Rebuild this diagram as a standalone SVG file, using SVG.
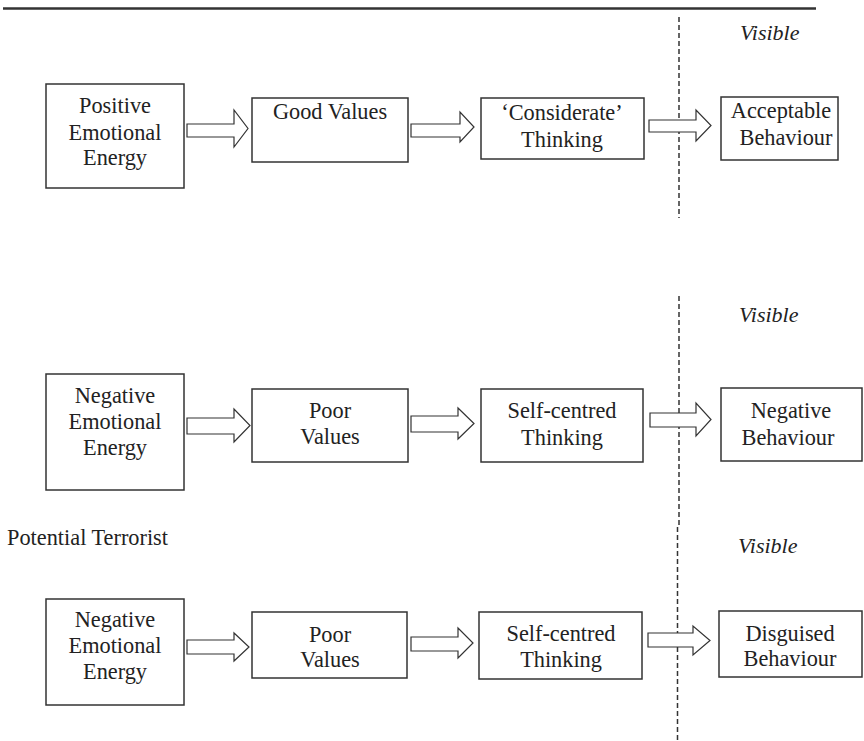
<svg xmlns="http://www.w3.org/2000/svg" width="864" height="741" viewBox="0 0 864 741">
<style>
.box{fill:#fff;stroke:#333;stroke-width:1.5}
.arr{fill:#fff;stroke:#333;stroke-width:1.2;stroke-linejoin:miter}
.t,.p{font-family:"Liberation Serif","Times New Roman",serif;font-size:24px;fill:#222;transform-box:fill-box;transform-origin:center;transform:scaleX(0.93)}
.t{text-anchor:middle}
.v{font-family:"Liberation Serif","Times New Roman",serif;font-size:22px;font-style:italic;fill:#222}
.dash{stroke:#333;stroke-width:1.5;stroke-dasharray:5 3;fill:none}
</style>
<rect width="864" height="741" fill="#fff"/>
<line x1="3" y1="8.5" x2="816" y2="8.5" stroke="#333" stroke-width="2.5"/>

<g id="dividers">
<line class="dash" x1="679" y1="17" x2="679" y2="218"/>
<line class="dash" x1="679" y1="296" x2="679" y2="527"/>
<line class="dash" x1="677.5" y1="527" x2="677.5" y2="741"/>
</g>

<g id="labels">
<text class="v" x="740" y="40">Visible</text>
<text class="v" x="739" y="322">Visible</text>
<text class="v" x="738" y="553">Visible</text>
<text class="p" x="1" y="545">Potential Terrorist</text>
</g>

<!-- Row 1 -->
<g id="r1n1"><rect class="box" x="46" y="84" width="138" height="104"/>
<text class="t" x="115" y="113">Positive</text><text class="t" x="115" y="140">Emotional</text><text class="t" x="115" y="165">Energy</text></g>
<g id="r1n2"><rect class="box" x="252" y="98" width="156" height="64"/>
<text class="t" x="330" y="119">Good Values</text></g>
<g id="r1n3"><rect class="box" x="481" y="98" width="163" height="61"/>
<text class="t" x="562" y="120">‘Considerate’</text><text class="t" x="562" y="147">Thinking</text></g>
<g id="r1n4"><rect class="box" x="721" y="97" width="117" height="63"/>
<text class="t" x="781" y="118">Acceptable</text><text class="t" x="786" y="145">Behaviour</text></g>

<!-- Row 2 -->
<g id="r2n1"><rect class="box" x="46" y="374" width="138" height="116"/>
<text class="t" x="115" y="403">Negative</text><text class="t" x="115" y="429">Emotional</text><text class="t" x="115" y="455">Energy</text></g>
<g id="r2n2"><rect class="box" x="252" y="389" width="156" height="73"/>
<text class="t" x="330" y="418">Poor</text><text class="t" x="330" y="444">Values</text></g>
<g id="r2n3"><rect class="box" x="481" y="389" width="162" height="73"/>
<text class="t" x="562" y="418">Self-centred</text><text class="t" x="562" y="445">Thinking</text></g>
<g id="r2n4"><rect class="box" x="721" y="388" width="141" height="73"/>
<text class="t" x="791" y="418">Negative</text><text class="t" x="788" y="445">Behaviour</text></g>

<!-- Row 3 -->
<g id="r3n1"><rect class="box" x="46" y="599" width="138" height="106"/>
<text class="t" x="115" y="627">Negative</text><text class="t" x="115" y="653">Emotional</text><text class="t" x="115" y="679">Energy</text></g>
<g id="r3n2"><rect class="box" x="252" y="612" width="155" height="66"/>
<text class="t" x="330" y="642">Poor</text><text class="t" x="330" y="667">Values</text></g>
<g id="r3n3"><rect class="box" x="479" y="612" width="163" height="67"/>
<text class="t" x="561" y="641">Self-centred</text><text class="t" x="561" y="667">Thinking</text></g>
<g id="r3n4"><rect class="box" x="719" y="611" width="143" height="66"/>
<text class="t" x="790" y="641">Disguised</text><text class="t" x="790" y="666">Behaviour</text></g>

<g id="connectors">
<polygon class="arr" points="187,124 234,124 234,110 248,128.5 234,147 234,137 187,137"/>
<polygon class="arr" points="411,124 460,124 460,112 474,127 460,142 460,137 411,137"/>
<polygon class="arr" points="649,120 696,120 696,110 711,125.5 696,141 696,132 649,132"/>
<polygon class="arr" points="187,418 234,418 234,409 250,425.5 234,442 234,434 187,434"/>
<polygon class="arr" points="411,416 458,416 458,408 474,423.5 458,439 458,432 411,432"/>
<polygon class="arr" points="650,413 696,413 696,403 711,419.5 696,436 696,427 650,427"/>
<polygon class="arr" points="187,640 234,640 234,633 249,647 234,661 234,654 187,654"/>
<polygon class="arr" points="411,637 458,637 458,628 473,643 458,658 458,651 411,651"/>
<polygon class="arr" points="648,633 693,633 693,626 710,640.5 693,655 693,647 648,647"/>
</g>
</svg>
